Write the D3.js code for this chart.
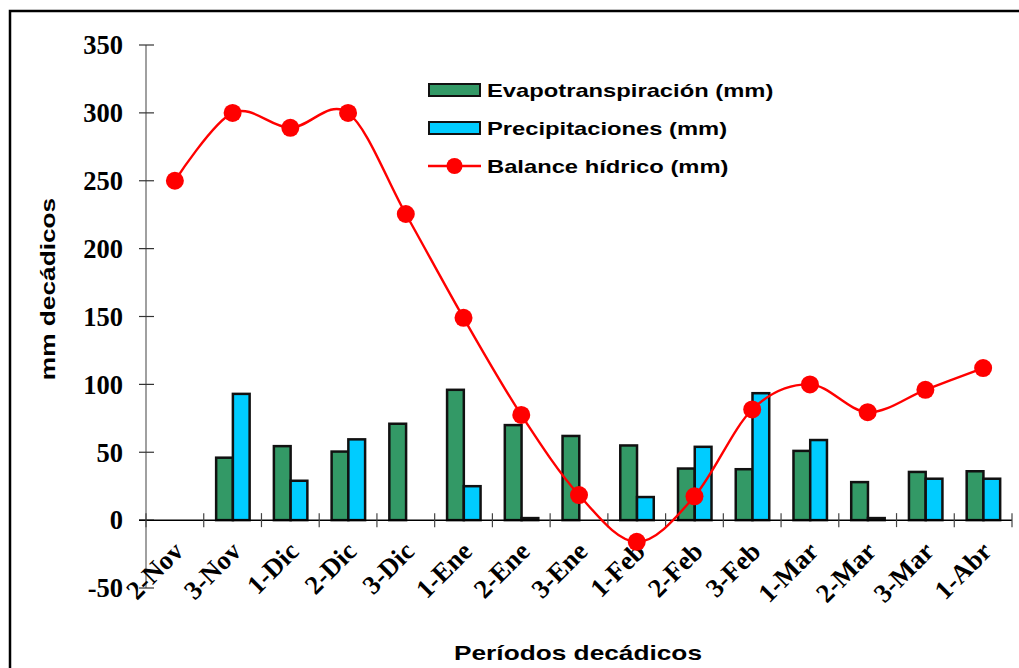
<!DOCTYPE html>
<html>
<head>
<meta charset="utf-8">
<script src="https://cdn.jsdelivr.net/npm/d3@7"></script>
<style>
  body { margin: 0; background: #fff; }
  svg { display: block; }
</style>
</head>
<body>
<div id="chart"></div>
<script>
// periodos decadicos
var periodos = ["2-Nov", "3-Nov", "1-Dic", "2-Dic", "3-Dic", "1-Ene", "2-Ene", "3-Ene",
                "1-Feb", "2-Feb", "3-Feb", "1-Mar", "2-Mar", "3-Mar", "1-Abr"];
var evapo  = [0, 46, 54.5, 50.5, 71, 96, 70, 62, 55, 38, 37.5, 51, 28, 35.5, 36];
var precip = [0, 93, 29, 59.5, 0, 25, 1.5, 0, 17, 54, 93.5, 59, 1.5, 30.5, 30.5];
var balance = [250, 300, 289, 300, 225.5, 149, 77.5, 18.5, -16, 17.5, 81.5, 100, 79.5, 96, 112];
var yTicks = [-50, 0, 50, 100, 150, 200, 250, 300, 350];

var W = 1019, H = 668;
var serif = "'Liberation Serif', 'Times New Roman', serif";
var sans = "'Liberation Sans', Arial, sans-serif";
var stretch = 1.25; // texto arial ancho del original

var svg = d3.select("#chart").append("svg").attr("width", W).attr("height", H);

// marco
svg.append("rect").attr("x", 10).attr("y", 11).attr("width", 1030).attr("height", 680)
    .attr("fill", "none").attr("stroke", "#000").attr("stroke-width", 2.5);

var x = d3.scaleBand().domain(periodos).range([146, 1012]);
var y = d3.scaleLinear().domain([-50, 350]).range([588, 45]);

var bw = x.bandwidth() * 0.29;
var off = x.bandwidth() * 0.215;

// barras
var gB = svg.append("g");
periodos.forEach(function(p, i) {
    if (evapo[i] > 0) {
        gB.append("rect")
            .attr("x", x(p) + off).attr("y", y(evapo[i]))
            .attr("width", bw).attr("height", y(0) - y(evapo[i]))
            .attr("fill", "#339966").attr("stroke", "#111").attr("stroke-width", 2.5);
    }
    if (precip[i] > 0) {
        gB.append("rect")
            .attr("x", x(p) + off + bw).attr("y", y(precip[i]))
            .attr("width", bw).attr("height", y(0) - y(precip[i]))
            .attr("fill", "#00ccff").attr("stroke", "#111").attr("stroke-width", 2.5);
    }
});

// eje y
var yAxis = svg.append("g").attr("transform", "translate(146,0)");
yAxis.append("line").attr("x1", 0).attr("x2", 0).attr("y1", y(350)).attr("y2", y(-50))
    .attr("stroke", "#808080").attr("stroke-width", 1.5);
yTicks.forEach(function(t) {
    yAxis.append("line").attr("x1", -7).attr("x2", 8).attr("y1", y(t)).attr("y2", y(t))
        .attr("stroke", "#333").attr("stroke-width", 1.2);
    yAxis.append("text").attr("x", -23).attr("y", y(t)).attr("dy", "0.35em")
        .attr("text-anchor", "end")
        .style("font-family", serif)
        .style("font-weight", "bold").style("font-size", "26.5px")
        .text(t);
});

// linea cero con marcas
svg.append("line").attr("x1", 139).attr("x2", 1012).attr("y1", y(0)).attr("y2", y(0))
    .attr("stroke", "#000").attr("stroke-width", 1.5);
x.domain().concat([null]).forEach(function(p) {
    var xx = p === null ? x.range()[1] : x(p);
    svg.append("line").attr("x1", xx).attr("x2", xx).attr("y1", y(0) - 7).attr("y2", y(0) + 7)
        .attr("stroke", "#444").attr("stroke-width", 1.2);
});

// etiquetas x
periodos.forEach(function(p) {
    var cx = x(p) + x.bandwidth() / 2 + 10;
    svg.append("text")
        .attr("transform", "translate(" + cx + "," + 553 + ") rotate(-45)")
        .attr("text-anchor", "end")
        .style("font-family", serif)
        .style("font-weight", "bold").style("font-size", "26.5px")
        .text(p);
});

// balance hidrico
var line = d3.line()
    .x(function(d, i) { return x(periodos[i]) + x.bandwidth() / 2; })
    .y(function(d) { return y(d); })
    .curve(d3.curveCardinal.tension(0));
svg.append("path").datum(balance).attr("d", line)
    .attr("fill", "none").attr("stroke", "#ff0000").attr("stroke-width", 2.4);
svg.selectAll(".pt").data(balance).enter().append("circle").attr("class", "pt")
    .attr("cx", function(d, i) { return x(periodos[i]) + x.bandwidth() / 2; })
    .attr("cy", function(d) { return y(d); })
    .attr("r", 9).attr("fill", "#ff0000");

// leyenda
var legend = svg.append("g").attr("transform", "translate(428,0)");
var legItems = [
    {label: "Evapotranspiración (mm)", type: "bar", color: "#339966", cy: 90},
    {label: "Precipitaciones (mm)", type: "bar", color: "#00ccff", cy: 128},
    {label: "Balance hídrico (mm)", type: "line", color: "#ff0000", cy: 166}
];
legItems.forEach(function(it) {
    if (it.type === "bar") {
        legend.append("rect").attr("x", 1).attr("y", it.cy - 6).attr("width", 51).attr("height", 12)
            .attr("fill", it.color).attr("stroke", "#111").attr("stroke-width", 2);
    } else {
        legend.append("line").attr("x1", 0).attr("x2", 53).attr("y1", it.cy).attr("y2", it.cy)
            .attr("stroke", it.color).attr("stroke-width", 2.4);
        legend.append("circle").attr("cx", 26.5).attr("cy", it.cy).attr("r", 8).attr("fill", it.color);
    }
    legend.append("text")
        .attr("transform", "translate(59," + (it.cy + 6.8) + ") scale(" + stretch + ",1)")
        .style("font-family", sans)
        .style("font-weight", "bold").style("font-size", "19px")
        .text(it.label);
});

// titulos de ejes
svg.append("text")
    .attr("transform", "translate(55,289) rotate(-90) scale(" + stretch + ",1)")
    .attr("text-anchor", "middle")
    .style("font-family", sans)
    .style("font-weight", "bold").style("font-size", "21px")
    .text("mm decádicos");
svg.append("text")
    .attr("transform", "translate(578,660) scale(" + stretch + ",1)")
    .attr("text-anchor", "middle")
    .style("font-family", sans)
    .style("font-weight", "bold").style("font-size", "21px")
    .text("Períodos decádicos");
</script>
</body>
</html>
